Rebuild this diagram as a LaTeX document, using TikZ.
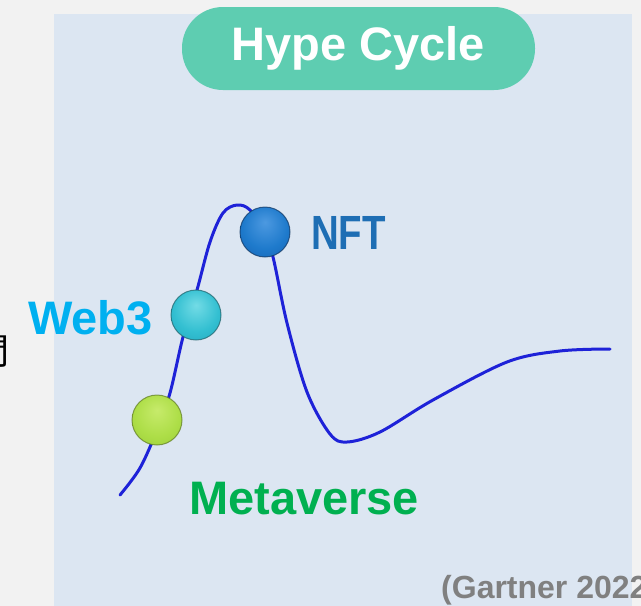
\documentclass[tikz,border=0pt]{standalone}
\usepackage{fontspec}
\setmainfont{Liberation Sans}
\newfontfamily\cjk{Noto Sans CJK SC}
\definecolor{outerbg}{HTML}{F2F2F2}
\definecolor{panelbg}{HTML}{DCE6F2}
\definecolor{pill}{HTML}{5ECDB1}
\definecolor{curveblue}{HTML}{1E22D8}
\definecolor{webblue}{HTML}{00B0F0}
\definecolor{nftblue}{HTML}{1E6EB4}
\definecolor{metagreen}{HTML}{00B050}
\definecolor{srcgray}{HTML}{808080}
\definecolor{metarim}{HTML}{5E7A22}
\definecolor{webrim}{HTML}{1E6068}
\definecolor{nftrim}{HTML}{0E3460}
\pgfdeclareradialshading{metashade}{\pgfpoint{0bp}{10bp}}{%
  rgb(0bp)=(0.78,0.92,0.42); rgb(22bp)=(0.68,0.87,0.28); rgb(40bp)=(0.60,0.80,0.22);
  rgb(50bp)=(0.42,0.55,0.16)}
\pgfdeclareradialshading{webshade}{\pgfpoint{0bp}{10bp}}{%
  rgb(0bp)=(0.45,0.86,0.90); rgb(22bp)=(0.20,0.75,0.82); rgb(40bp)=(0.13,0.65,0.74);
  rgb(50bp)=(0.08,0.42,0.48)}
\pgfdeclareradialshading{nftshade}{\pgfpoint{0bp}{10bp}}{%
  rgb(0bp)=(0.30,0.60,0.88); rgb(22bp)=(0.12,0.48,0.80); rgb(40bp)=(0.08,0.38,0.70);
  rgb(50bp)=(0.04,0.22,0.45)}
\begin{document}
\begin{tikzpicture}[x=1pt,y=-1pt,
  ball/.style={circle, minimum size=50pt, inner sep=0pt, line width=1pt},
  lbl/.style={inner sep=0pt, font=\bfseries},
]
\useasboundingbox (0,0) rectangle (641,606);
\clip (0,0) rectangle (641,606);
\fill[outerbg] (0,0) rectangle (641,606);
\fill[panelbg] (54,14) rectangle (632,606);
% title pill
\node[fill=pill, rounded corners=41pt, minimum width=353pt, minimum height=83pt, inner sep=0pt,
      text=white, font=\fontsize{47}{52}\selectfont\bfseries] (title) at (358.5,48.5) {Hype Cycle};
% partial CJK character at left edge
\node[anchor=east, inner sep=0pt, font=\cjk\fontsize{36}{40}\selectfont] (cut) at (10,352) {間};
% curve
\draw[curveblue, line width=3pt, line cap=round]
  plot[smooth, tension=0.55] coordinates {
   (120,495) (140,468) (157,430) (170,393) (183,337) (197,290) (210,242)
   (223,213) (237,205) (250,210) (264,232) (273,257) (287,323) (307,392)
   (330,434) (347,442) (380,432) (433,400) (507,362) (560,351) (610,349)};
% balls
\node[ball, shading=metashade, draw=metarim, draw opacity=0.7] (meta) at (157,420) {};
\node[ball, shading=webshade, draw=webrim, draw opacity=0.7] (web) at (196,315) {};
\node[ball, shading=nftshade, draw=nftrim, draw opacity=0.7] (nft) at (265,232) {};
% labels
\node[lbl, text=webblue, font=\fontsize{47}{50}\selectfont\bfseries, anchor=east] (weblbl) at (153,318) {Web3};
\node[lbl, text=nftblue, anchor=west, xscale=0.8] (nftlbl) at (311,233)
      {\fontsize{48}{52}\selectfont\bfseries NFT};
\node[lbl, text=metagreen, font=\fontsize{47}{50}\selectfont\bfseries, anchor=west] (metalbl) at (189,499) {Metaverse};
\node[lbl, text=srcgray, font=\fontsize{32}{36}\selectfont\bfseries, anchor=west] (src) at (441,590) {(Gartner 2022)};
\end{tikzpicture}
\end{document}
